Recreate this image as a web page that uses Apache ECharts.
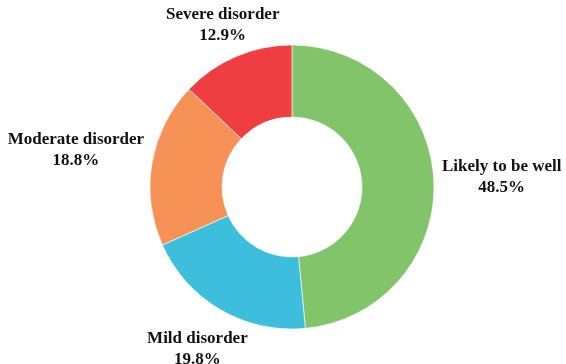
<!DOCTYPE html>
<html>
<head>
<meta charset="utf-8">
<style>
  html, body { margin: 0; padding: 0; background: #fff; }
  #chart { width: 566px; height: 364px; }
</style>
<script src="https://cdn.jsdelivr.net/npm/echarts@6/dist/echarts.min.js"></script>
</head>
<body>
<div id="chart"></div>
<script>
// Share of respondents by wellbeing category (percent)
const categories = ['Likely to be well', 'Mild disorder', 'Moderate disorder', 'Severe disorder'];
const shares = [48.5, 19.8, 18.8, 12.9];
const colors = ['#82C46A', '#3DBEDD', '#F79256', '#EF3E42'];

const CX = 292, CY = 187, R_IN = 70, R_OUT = 142;
const LABEL_GAP = 8;      // clearance between ring and label ink
const INK_INSET = 5.5;    // label box padding above/below the glyphs
const INK_RAISE = 3.5;    // glyph block sits a little above the box centre

// mid angle of each slice, clockwise from 12 o'clock
const total = shares.reduce((a, b) => a + b, 0);
const midAngles = [];
let acc = 0;
shares.forEach(v => {
  midAngles.push(((acc + v / 2) / total) * 2 * Math.PI);
  acc += v;
});

// slide a label outwards along its slice's mid angle until its text clears the ring
function labelCentre(idx, halfW, halfH) {
  const ux = Math.sin(midAngles[idx]);
  const uy = -Math.cos(midAngles[idx]);
  const clamp = (v, lo, hi) => Math.max(lo, Math.min(hi, v));
  let lo = 0, hi = 500;
  for (let i = 0; i < 60; i++) {
    const d = (lo + hi) / 2;
    const cx = d * ux, cy = d * uy - INK_RAISE;
    const nx = clamp(0, cx - halfW, cx + halfW);
    const ny = clamp(0, cy - halfH, cy + halfH);
    if (Math.hypot(nx, ny) < R_OUT + LABEL_GAP) lo = d; else hi = d;
  }
  return { x: CX + hi * ux, y: CY + hi * uy };
}

const chart = echarts.init(document.getElementById('chart'), null, { renderer: 'canvas' });
chart.setOption({
  animation: false,
  color: colors,
  series: [{
    type: 'pie',
    center: [CX, CY],
    radius: [R_IN, R_OUT],
    startAngle: 90,
    clockwise: true,
    avoidLabelOverlap: false,
    itemStyle: { borderColor: '#ffffff', borderWidth: 0.6 },
    label: {
      show: true,
      position: 'outside',
      formatter: p => p.name + '\n' + p.value.toFixed(1) + '%',
      fontFamily: 'Liberation Serif',
      fontWeight: 'bold',
      fontSize: 17,
      lineHeight: 21,
      color: '#111111',
      align: 'center'
    },
    labelLine: { show: false },
    labelLayout: params => {
      const r = params.labelRect;
      const c = labelCentre(params.dataIndex, r.width / 2, r.height / 2 - INK_INSET);
      return { x: c.x, y: c.y, align: 'center', verticalAlign: 'middle' };
    },
    emphasis: { disabled: true },
    data: categories.map((name, i) => ({ name, value: shares[i] }))
  }]
});
</script>
</body>
</html>
